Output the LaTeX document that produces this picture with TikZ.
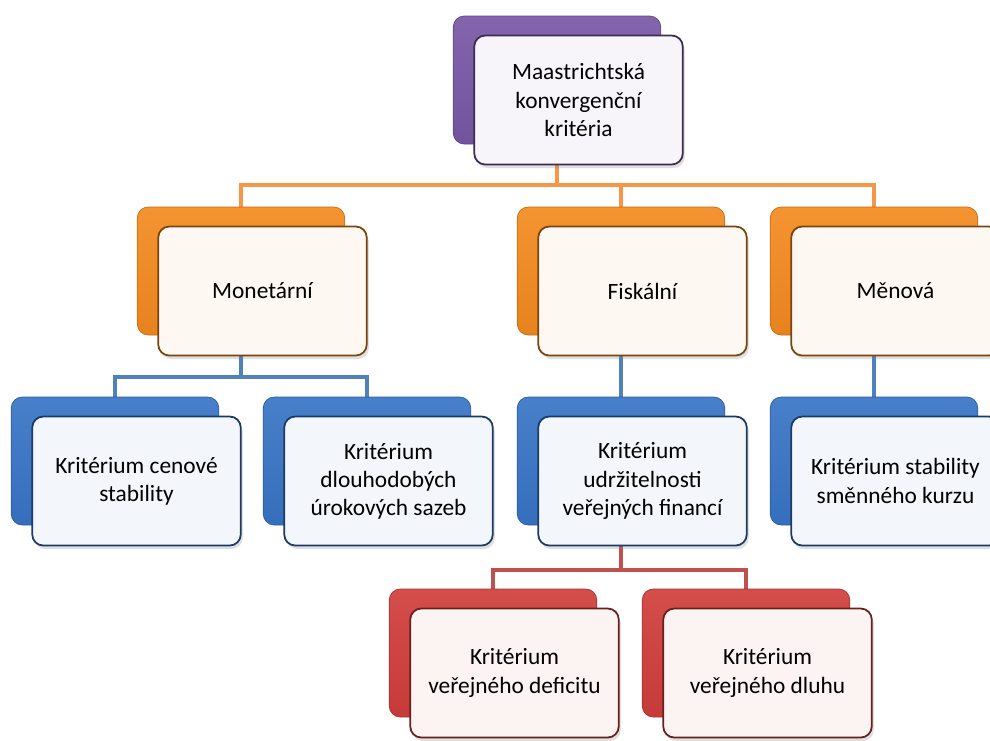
\documentclass[tikz,border=0pt]{standalone}
\usepackage{fontspec}
\setmainfont{Carlito}
\usetikzlibrary{backgrounds,shadows}

\definecolor{mkpurple}{HTML}{7857A6}
\definecolor{mkorange}{HTML}{F38A1F}
\definecolor{mkblue}{HTML}{3874C6}
\definecolor{mkred}{HTML}{D03E3C}
\definecolor{orlink}{HTML}{F79646}
\definecolor{bllink}{HTML}{4F81BD}
\definecolor{rdlink}{HTML}{C0504D}

\begin{document}
\begin{tikzpicture}[
    backbox/.style={rounded corners=0.22cm, minimum width=4.15cm, minimum height=2.56cm,
        draw=#1!80!black, top color=#1!92!white, bottom color=#1!95!black},
    frontbox/.style={rounded corners=0.22cm, minimum width=4.17cm, minimum height=2.58cm,
        draw=#1!50!black, line width=1pt, fill=#1!6!white, align=center,
        font=\fontsize{13.3}{16}\selectfont,
        drop shadow={opacity=0.25, shadow xshift=0.04cm, shadow yshift=-0.07cm}},
    linkline/.style={draw=#1, line width=2.2pt}
]
    \useasboundingbox (0,0) rectangle (19.8,-14.8);

    % top
    \node[backbox=mkpurple] (mkb) at (11.14,-1.6) {};
    \node[frontbox=mkpurple] (mk) at ([shift={(0.43,-0.4)}]mkb.center) {Maastrichtská\\ konvergenční\\ kritéria};

    % second row
    \node[backbox=mkorange] (monb) at (4.82,-5.42) {};
    \node[frontbox=mkorange] (mon) at ([shift={(0.43,-0.4)}]monb.center) {Monetární};
    \node[backbox=mkorange] (fisb) at (12.42,-5.42) {};
    \node[frontbox=mkorange] (fis) at ([shift={(0.43,-0.4)}]fisb.center) {Fiskální};
    \node[backbox=mkorange] (menb) at (17.48,-5.42) {};
    \node[frontbox=mkorange] (men) at ([shift={(0.43,-0.4)}]menb.center) {Měnová};

    % third row
    \node[backbox=mkblue] (cenb) at (2.3,-9.22) {};
    \node[frontbox=mkblue] (cen) at ([shift={(0.43,-0.4)}]cenb.center) {Kritérium cenové\\ stability};
    \node[backbox=mkblue] (dlob) at (7.34,-9.22) {};
    \node[frontbox=mkblue] (dlo) at ([shift={(0.43,-0.4)}]dlob.center) {Kritérium\\ dlouhodobých\\ úrokových sazeb};
    \node[backbox=mkblue] (udrb) at (12.42,-9.22) {};
    \node[frontbox=mkblue] (udr) at ([shift={(0.43,-0.4)}]udrb.center) {Kritérium\\ udržitelnosti\\ veřejných financí};
    \node[backbox=mkblue] (smeb) at (17.48,-9.22) {};
    \node[frontbox=mkblue] (sme) at ([shift={(0.43,-0.4)}]smeb.center) {Kritérium stability\\ směnného kurzu};

    % bottom row
    \node[backbox=mkred] (defb) at (9.86,-13.06) {};
    \node[frontbox=mkred] (def) at ([shift={(0.43,-0.4)}]defb.center) {Kritérium\\ veřejného deficitu};
    \node[backbox=mkred] (dlub) at (14.92,-13.06) {};
    \node[frontbox=mkred] (dlu) at ([shift={(0.43,-0.4)}]dlub.center) {Kritérium\\ veřejného dluhu};

    \coordinate (obus) at (0,-3.7);
    \coordinate (bbus) at (0,-7.54);
    \coordinate (rbus) at (0,-11.4);

    \begin{scope}[on background layer]
        \draw[linkline=orlink] (mkb.south) -- (mkb.south |- obus) -| (monb.north);
        \draw[linkline=orlink] (mkb.south |- obus) -| (fisb.north);
        \draw[linkline=orlink] (mkb.south |- obus) -| (menb.north);

        \draw[linkline=bllink] (monb.south) -- (monb.south |- bbus) -| (cenb.north);
        \draw[linkline=bllink] (monb.south |- bbus) -| (dlob.north);
        \draw[linkline=bllink] (fisb.south) -- (udrb.north);
        \draw[linkline=bllink] (menb.south) -- (smeb.north);

        \draw[linkline=rdlink] (udrb.south) -- (udrb.south |- rbus) -| (defb.north);
        \draw[linkline=rdlink] (udrb.south |- rbus) -| (dlub.north);
    \end{scope}
\end{tikzpicture}
\end{document}
